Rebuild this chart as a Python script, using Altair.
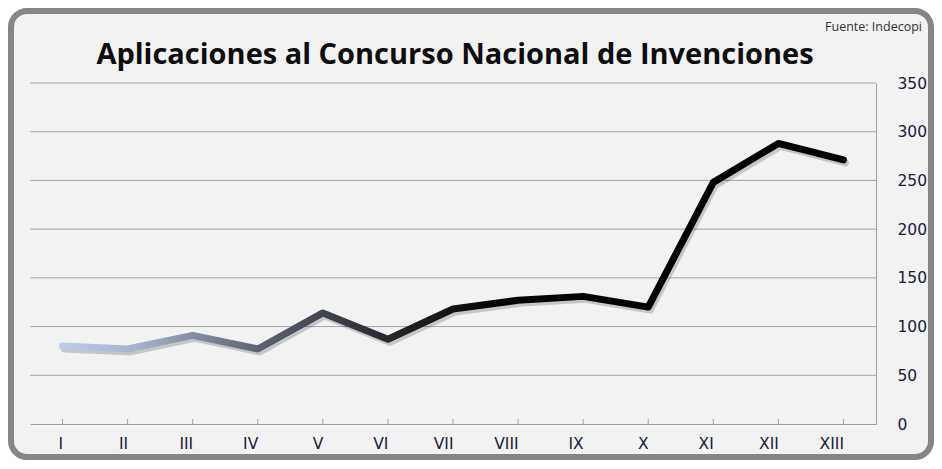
import altair as alt
import pandas as pd

# ---- data ----
categories = ["I", "II", "III", "IV", "V", "VI", "VII", "VIII", "IX", "X", "XI", "XII", "XIII"]
values = [80, 77, 91, 77, 114, 87, 118, 127, 131, 120, 248, 288, 271]
y_ticks = [0, 50, 100, 150, 200, 250, 300, 350]
title_text = "Aplicaciones al Concurso Nacional de Invenciones"
source_text = "Fuente: Indecopi"

W, H = 846, 341

df = pd.DataFrame({"cat": categories, "val": values})
grid_df = pd.DataFrame({"v": y_ticks})
one = pd.DataFrame({"t": [title_text]})
src = pd.DataFrame({"t": [source_text]})
frame_df = pd.DataFrame({"k": [1]})

xscale = alt.Scale(type="point", padding=0.5)
xenc = alt.X("cat:N", sort=categories, scale=xscale,
             axis=alt.Axis(title=None, labelAngle=0, ticks=False, domain=True,
                           domainColor="#a0a0a0", labelPadding=19, zindex=1,
                           labelFont="DejaVu Sans", labelFontSize=15.5,
                           labelColor="#18213a", grid=False))
yscale = alt.Scale(domain=[0, 350])
yenc = alt.Y("val:Q", scale=yscale,
             axis=alt.Axis(title=None, orient="right", values=y_ticks, ticks=False,
                           domain=True, domainColor="#a0a0a0", grid=False, zindex=1,
                           labelPadding=21, labelFont="DejaVu Sans", labelFontSize=15.5,
                           labelColor="#18213a", labelAlign="left"))

frame = alt.Chart(frame_df).mark_rect(
    fill="#f2f2f2", stroke="#868686", strokeWidth=6, cornerRadius=16
).encode(x=alt.value(-19), x2=alt.value(901), y=alt.value(-72), y2=alt.value(374))

grid = alt.Chart(grid_df).transform_filter(alt.datum.v > 0).mark_rule(
    color="#a6a6a6", strokeWidth=1
).encode(y=alt.Y("v:Q", scale=yscale), x=alt.value(0), x2=alt.value(W))

ticks = alt.Chart(df).mark_rule(color="#a0a0a0", strokeWidth=1).encode(
    x=alt.X("cat:N", sort=categories, scale=xscale),
    y=alt.value(H - 5), y2=alt.value(H))

shadow = alt.Chart(df).mark_line(
    stroke="#000000", strokeWidth=7, opacity=0.18, xOffset=2, yOffset=3,
    strokeCap="round", strokeJoin="round"
).encode(x=alt.X("cat:N", sort=categories, scale=xscale),
         y=alt.Y("val:Q", scale=yscale))

grad = alt.Gradient(
    gradient="linear",
    stops=[
        alt.GradientStop(offset=0.0, color="#bccbe9"),
        alt.GradientStop(offset=0.1, color="#a3b1cd"),
        alt.GradientStop(offset=0.25, color="#5d6373"),
        alt.GradientStop(offset=0.42, color="#25272c"),
        alt.GradientStop(offset=0.55, color="#050505"),
        alt.GradientStop(offset=1.0, color="#000000"),
    ],
    x1=0, x2=1, y1=0, y2=0,
)

line = alt.Chart(df).mark_line(
    stroke=grad, strokeWidth=7, strokeCap="round", strokeJoin="round"
).encode(x=xenc, y=yenc)

title = alt.Chart(one).mark_text(
    font="Open Sans", fontSize=29, fontWeight="bold", color="#0d0d0d",
    align="center", baseline="alphabetic"
).encode(text="t:N", x=alt.value(425), y=alt.value(-19))

source = alt.Chart(src).mark_text(
    font="Open Sans", fontSize=12.5, color="#333333", align="right", baseline="middle"
).encode(text="t:N", x=alt.value(892), y=alt.value(-56))

chart = alt.layer(frame, grid, ticks, shadow, line, title, source).properties(
    width=W, height=H, padding=0, background="white"
).configure_view(stroke=None)

chart.save("out.html", embed_options={"renderer": "svg", "actions": False})
